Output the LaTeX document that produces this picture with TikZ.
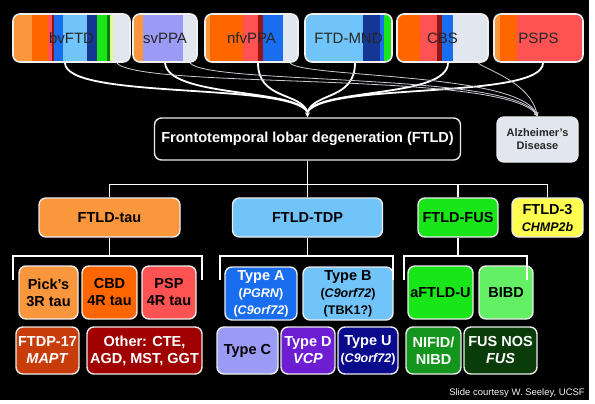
\documentclass[tikz,border=0pt]{standalone}
\usepackage{fontspec}
\setmainfont{Liberation Sans}
\usetikzlibrary{arrows.meta}

\definecolor{lorange}{RGB}{250,150,60}
\definecolor{dorange}{RGB}{255,102,0}
\definecolor{salmon}{RGB}{255,82,82}
\definecolor{maroon}{RGB}{150,20,20}
\definecolor{tdpblue}{RGB}{25,110,240}
\definecolor{skyblue}{RGB}{112,196,250}
\definecolor{deepblue}{RGB}{20,55,150}
\definecolor{fusgreen}{RGB}{25,230,25}
\definecolor{dkgreen}{RGB}{10,120,10}
\definecolor{paleyellow}{RGB}{225,250,150}
\definecolor{adgray}{RGB}{226,231,239}
\definecolor{lavender}{RGB}{155,155,245}
\definecolor{bibdgreen}{RGB}{100,240,100}
\definecolor{nifidgreen}{RGB}{20,150,30}
\definecolor{nosgreen}{RGB}{10,60,10}
\definecolor{ftdpred}{RGB}{200,60,10}
\definecolor{otherred}{RGB}{160,0,0}
\definecolor{typeDpurple}{RGB}{110,30,210}
\definecolor{typeUnavy}{RGB}{10,10,140}
\definecolor{chmpyellow}{RGB}{255,255,80}

\newcommand{\subline}[1]{{\fontsize{12.5}{15.5}\selectfont #1}}

\begin{document}
\begin{tikzpicture}[x=1pt,y=-1pt,
    box/.style={rectangle,rounded corners=7,draw=white!85!gray,line width=1.4,
        inner sep=1,align=center,font=\bfseries\fontsize{14.5}{17}\selectfont},
    topbox/.style={rectangle,rounded corners=7,draw=white!88!gray,line width=1.6,
        minimum height=48,font=\fontsize{15}{17}\selectfont,text=black!85},
    tree/.style={draw=white,line width=1.5},
    feed/.style={draw=white,line width=1.8},
    adline/.style={draw=adgray!75!gray,line width=0.8,-{Stealth[length=4,width=4]}}]

\useasboundingbox (0,0) rectangle (595,404);
\fill[white] (0,0) rectangle (595,404);
\fill[black] (0,0) rectangle (589,400);

% coloured stripes of the clinical syndromes
\foreach \xa/\xb/\cols in {
    13/130/{13/32/lorange,32/48/dorange,48/52/salmon,52/54/maroon,54/63/tdpblue,63/87/skyblue,87/97/deepblue,97/107/fusgreen,107/110/dkgreen,110/113/paleyellow,113/130/adgray},
    133/197/{133/143/lorange,143/183/lavender,183/197/adgray},
    205/298/{205/210/lorange,210/243/dorange,243/258/salmon,258/263/maroon,263/283/tdpblue,283/298/adgray},
    305/392/{305/363/skyblue,363/380/deepblue,380/384/tdpblue,384/392/fusgreen},
    397/488/{397/420/dorange,420/437/salmon,437/442/maroon,442/453/tdpblue,453/488/adgray},
    494/583/{494/500/lorange,500/517/dorange,517/583/salmon}}{
    \begin{scope}
        \clip[rounded corners=7] (\xa,14) rectangle (\xb,62);
        \foreach \l/\r/\c in \cols \fill[\c] (\l,14) rectangle (\r,62);
    \end{scope}
}

\begin{scope}[every node/.style={topbox}]
    \node[minimum width=117] (bv) at (71.5,38) {bvFTD\hspace{12pt}};
    \node[minimum width=64] (sv) at (165,38) {svPPA};
    \node[minimum width=93] (nfv) at (251.5,38) {nfvPPA};
    \node[minimum width=87] (mnd) at (348.5,38) {FTD-MND};
    \node[minimum width=91] (cbs) at (442.5,38) {CBS};
    \node[minimum width=89] (psps) at (538.5,38) {PSPS};
\end{scope}

\node[box,fill=black,text=white,minimum width=306,minimum height=42] (ftld) at (307.5,139) {Frontotemporal lobar degeneration (FTLD)};
\node[box,fill=adgray,text=black!85,font=\bfseries\fontsize{11}{13}\selectfont,
    minimum width=81,minimum height=45] (ad) at (537.5,139.5) {Alzheimer's\\Disease};

% pathology classes
\begin{scope}[every node/.style={box,minimum height=39}]
    \node[fill=lorange,minimum width=141] (tau) at (109.5,217.5) {FTLD-tau};
    \node[fill=skyblue,minimum width=150] (tdp) at (307.5,217.5) {FTLD-TDP};
    \node[fill=fusgreen,minimum width=80] (fus) at (458,217.5) {FTLD-FUS};
    \node[fill=chmpyellow,minimum width=71] (f3) at (547.5,217.5) {FTLD-3\\\subline{\textit{CHMP2b}}};
\end{scope}

\begin{scope}[every node/.style={box,minimum height=53}]
    \node[fill=lorange,minimum width=59] (pick) at (48.5,292.5) {Pick's\\3R tau};
    \node[fill=dorange,minimum width=55] (cbd) at (109.5,292.5) {CBD\\4R tau};
    \node[fill=salmon,minimum width=54] (psp) at (169,292.5) {PSP\\4R tau};
    \node[fill=tdpblue,text=white,minimum width=72] (typeA) at (261,293.5) {Type A\\\subline{(\textit{PGRN})}\\\subline{(\textit{C9orf72})}};
    \node[fill=skyblue,minimum width=90] (typeB) at (348,293.5) {Type B\\\subline{(\textit{C9orf72})}\\\subline{(TBK1?)}};
    \node[fill=fusgreen,minimum width=65] (aftld) at (440.5,292.5) {aFTLD-U};
    \node[fill=bibdgreen,minimum width=54] (bibd) at (506,292.5) {BIBD};
\end{scope}

\begin{scope}[every node/.style={box,text=white,minimum height=47}]
    \node[fill=ftdpred,minimum width=63] (ftdp) at (47.5,350.5) {FTDP-17\\\textit{MAPT}};
    \node[fill=otherred,minimum width=115] (other) at (144.5,350.5) {Other: CTE,\\AGD, MST, GGT};
    \node[fill=lavender,text=black,minimum width=61] (typeC) at (247.5,350.5) {Type C};
    \node[fill=typeDpurple,minimum width=54] (typeD) at (308,350.5) {Type D\\\textit{VCP}};
    \node[fill=typeUnavy,minimum width=60] (typeU) at (368,350.5) {Type U\\\subline{(\textit{C9orf72})}};
    \node[fill=nifidgreen,minimum width=55] (nifid) at (433.5,350.5) {NIFID/\\NIBD};
    \node[fill=nosgreen,minimum width=73] (fusnos) at (500.5,350.5) {FUS NOS\\\textit{FUS}};
\end{scope}

\node[anchor=east,text=white!90!gray,font=\fontsize{9.5}{11}\selectfont,inner sep=0] (credit) at (585,393) {Slide courtesy W. Seeley, UCSF};

% syndromes feed into FTLD
\coordinate (meet) at (307.5,112);
\draw[feed] ([xshift=-6.5]bv.south) .. controls (65,100) and (290,82) .. (meet);
\draw[feed] (sv.south) .. controls (168,98) and (295,88) .. (meet);
\draw[feed] ([xshift=6.5]nfv.south) .. controls (258,100) and (300,92) .. (meet);
\draw[feed] ([xshift=6.5]mnd.south) .. controls (355,100) and (315,92) .. (meet);
\draw[feed] ([xshift=5.5]cbs.south) .. controls (448,98) and (320,88) .. (meet);
\draw[feed] ([xshift=4.5]psps.south) .. controls (543,100) and (325,82) .. (meet);
\draw[feed,-{Stealth[length=5,width=5]}] (meet) -- (ftld.north);

% thin lines to Alzheimer's disease
\draw[adline] ([xshift=45]bv.south) .. controls (140,90) and (505,70) .. (ad.north);
\draw[adline] ([xshift=25]sv.south) .. controls (205,85) and (515,72) .. (ad.north);
\draw[adline] ([xshift=38.5]nfv.south) .. controls (300,78) and (520,72) .. (ad.north);
\draw[adline] ([xshift=35.5]cbs.south) .. controls (486,70) and (530,82) .. (ad.north);

% tree of pathologies
\draw[tree] (ftld.south) -- (tdp.north);
\draw[tree] (tau.north) -- ++(0,-13) -| (f3.north);
\draw[tree] (fus.north) -- ++(0,-13);

\coordinate (tauL) at (13,280);
\coordinate (tauR) at (202,280);
\coordinate (tdpL) at (220,280);
\coordinate (tdpR) at (393,280);
\coordinate (fusL) at (404,280);
\coordinate (fusR) at (527,280);
\draw[tree] (tau.south) -- ++(0,19);
\draw[tree] (tdp.south) -- ++(0,19);
\draw[tree] (fus.south) -- ++(0,19);
\draw[tree] (tauL) -- ++(0,-24) -| (tauR);
\draw[tree] (tdpL) -- ++(0,-24) -| (tdpR);
\draw[tree] (fusL) -- ++(0,-24) -| (fusR);
\end{tikzpicture}
\end{document}
